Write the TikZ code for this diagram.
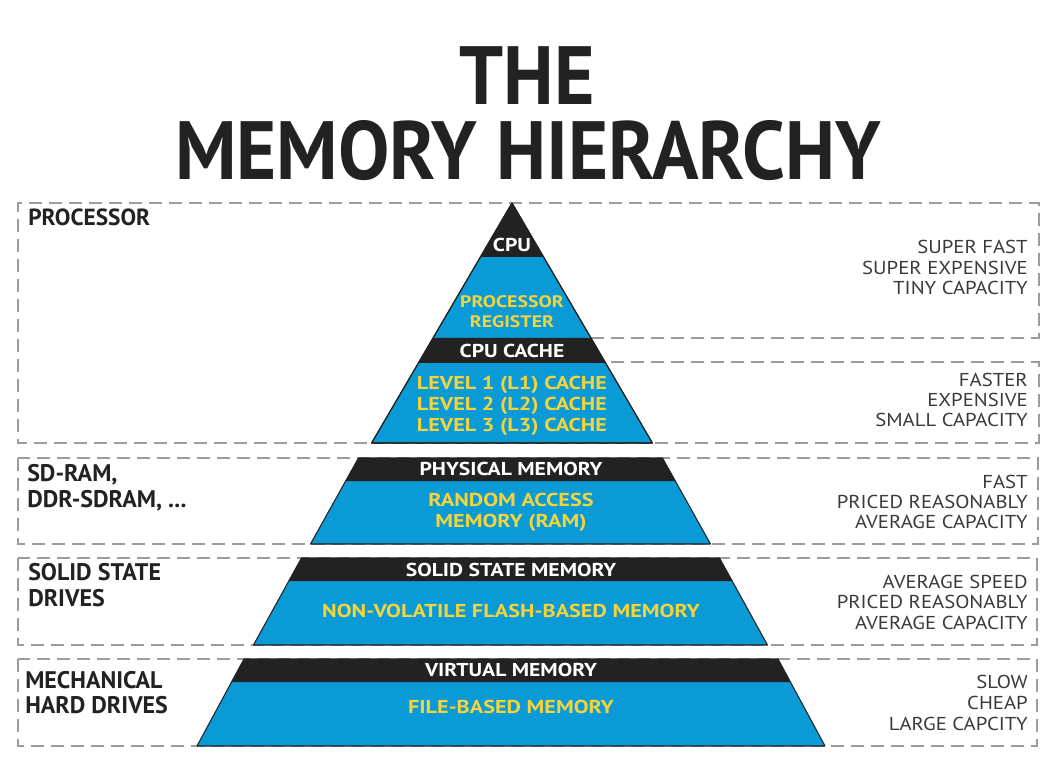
\documentclass[tikz,border=0pt]{standalone}
\usepackage{fontspec}
\setmainfont{PT Sans}
\newfontfamily\ystretch[FakeStretch=1.19]{PT Sans}
\newfontfamily\wstretch[FakeStretch=1.16]{PT Sans}
\newfontfamily\rstretch[FakeStretch=1.11]{PT Sans}
\definecolor{pblue}{HTML}{0A9BD7}
\definecolor{pblack}{HTML}{222222}
\definecolor{pyellow}{HTML}{F5D33B}
\definecolor{dgray}{HTML}{9C9C9C}
\definecolor{tgray}{HTML}{3A3A3A}
\begin{document}
\begin{tikzpicture}[x=0.75pt,y=-0.75pt,
  dbox/.style={draw=dgray, line width=1.2pt, dash pattern=on 9.5pt off 5.5pt},
  sec/.style={fill=pblue, draw=pblack, line width=0.8pt, line join=round},
  band/.style={fill=pblack},
  wlab/.style={text=white, font=\wstretch\bfseries\fontsize{14}{16}\selectfont, anchor=base, inner sep=0pt},
  ylab/.style={text=pyellow, font=\ystretch\bfseries\fontsize{14}{16}\selectfont, anchor=base, inner sep=0pt},
  ysmall/.style={text=pyellow, font=\ystretch\bfseries\fontsize{12.5}{14}\selectfont, anchor=base, inner sep=0pt},
  rlab/.style={text=tgray, font=\rstretch\fontsize{14}{16}\selectfont, anchor=base east, inner sep=0pt},
  llab/.style={text=pblack, font=\bfseries\fontsize{17.5}{20}\selectfont, anchor=base west, inner sep=0pt},
  lbig/.style={text=pblack, font=\bfseries\fontsize{18}{20}\selectfont, anchor=base west, inner sep=0pt},
  ttl/.style={text=pblack, font=\bfseries\fontsize{62}{66}\selectfont, anchor=base, inner sep=0pt}]
\useasboundingbox (0,0) rectangle (1058,770);
\fill[white] (0,0) rectangle (1058,770);

% dashed boxes
\draw[dbox] (511,338) -- (1039,338) -- (1039,203) -- (18,203) -- (18,443) -- (511,443);
\draw[dbox] (511,362) -- (1039,362) -- (1039,443) -- (511,443);
\draw[dbox] (18,458) rectangle (1038,544);
\draw[dbox] (18,558) rectangle (1037,645);
\draw[dbox] (18,659) rectangle (1037,746);

% section 1 : processor
\filldraw[sec] (512,203) -- (652.4,443) -- (371.6,443) -- cycle;
\fill[band] (512,203) -- (543.6,257) -- (480.4,257) -- cycle;
\fill[band] (433,338) -- (591,338) -- (605.6,363) -- (418.4,363) -- cycle;
\draw[pblack, line width=0.8pt, line join=round] (512,203) -- (652.4,443) -- (371.6,443) -- cycle;

% section 2 : physical memory
\filldraw[sec] (358.5,458) -- (662.5,458) -- (710.5,544) -- (310.5,544) -- cycle;
\fill[band] (358.5,458) -- (662.5,458) -- (675.3,481) -- (345.7,481) -- cycle;

% section 3 : solid state memory
\filldraw[sec] (301.5,558) -- (719.5,558) -- (767.5,645) -- (253.5,645) -- cycle;
\fill[band] (301.5,558) -- (719.5,558) -- (732.2,581) -- (288.8,581) -- cycle;

% section 4 : virtual memory
\filldraw[sec] (244,659) -- (778,659) -- (825,746) -- (197,746) -- cycle;
\fill[band] (244,659) -- (778,659) -- (790.4,682) -- (231.6,682) -- cycle;

% title
\node[ttl] (t1) at (527,104.5) {\scalebox{0.94}[1]{THE}};
\node[ttl] (t2) at (528,180) {\scalebox{0.93}[1]{MEMORY HIERARCHY}};

% pyramid labels
\node[wlab] (cpu) at (512,251.5) {CPU};
\node[ysmall] (reg1) at (512,308) {PROCESSOR};
\node[ysmall] (reg2) at (512,328) {REGISTER};
\node[wlab] (cache) at (512,357.5) {CPU CACHE};
\node[ylab] (l1) at (512,389.5) {LEVEL 1 (L1) CACHE};
\node[ylab] (l2) at (512,410.5) {LEVEL 2 (L2) CACHE};
\node[ylab] (l3) at (512,431.5) {LEVEL 3 (L3) CACHE};
\node[wlab] (phys) at (511,475.5) {PHYSICAL MEMORY};
\node[ylab] (ram1) at (511,506.5) {RANDOM ACCESS};
\node[ylab] (ram2) at (511,527.5) {MEMORY (RAM)};
\node[wlab] (ssm) at (511,576.5) {SOLID STATE MEMORY};
\node[ylab] (flash) at (511,617.5) {NON-VOLATILE FLASH-BASED MEMORY};
\node[wlab] (virt) at (511,676.5) {VIRTUAL MEMORY};
\node[ylab] (file) at (511,713.5) {FILE-BASED MEMORY};

% left labels
\node[llab] (proc) at (28,226) {PROCESSOR};
\node[lbig] (sd1) at (27,481) {SD-RAM,};
\node[lbig] (sd2) at (27,507) {DDR-SDRAM, ...};
\node[lbig] (ssd1) at (28,580.4) {SOLID STATE};
\node[lbig] (ssd2) at (28,606.4) {DRIVES};
\node[lbig] (hdd1) at (25,688.4) {MECHANICAL};
\node[lbig] (hdd2) at (25,713.4) {HARD DRIVES};

% right labels
\node[rlab] (r11) at (1028,253.5) {SUPER FAST};
\node[rlab] (r12) at (1028,274.5) {SUPER EXPENSIVE};
\node[rlab] (r13) at (1028,294.5) {TINY CAPACITY};
\node[rlab] (r21) at (1028,386.5) {FASTER};
\node[rlab] (r22) at (1028,406.5) {EXPENSIVE};
\node[rlab] (r23) at (1028,426.5) {SMALL CAPACITY};
\node[rlab] (r31) at (1028,488.5) {FAST};
\node[rlab] (r32) at (1028,508.5) {PRICED REASONABLY};
\node[rlab] (r33) at (1028,528.5) {AVERAGE CAPACITY};
\node[rlab] (r41) at (1028,588.5) {AVERAGE SPEED};
\node[rlab] (r42) at (1028,608.5) {PRICED REASONABLY};
\node[rlab] (r43) at (1028,629.5) {AVERAGE CAPACITY};
\node[rlab] (r51) at (1028,688.5) {SLOW};
\node[rlab] (r52) at (1028,709.5) {CHEAP};
\node[rlab] (r53) at (1028,730.5) {LARGE CAPCITY};
\end{tikzpicture}
\end{document}
